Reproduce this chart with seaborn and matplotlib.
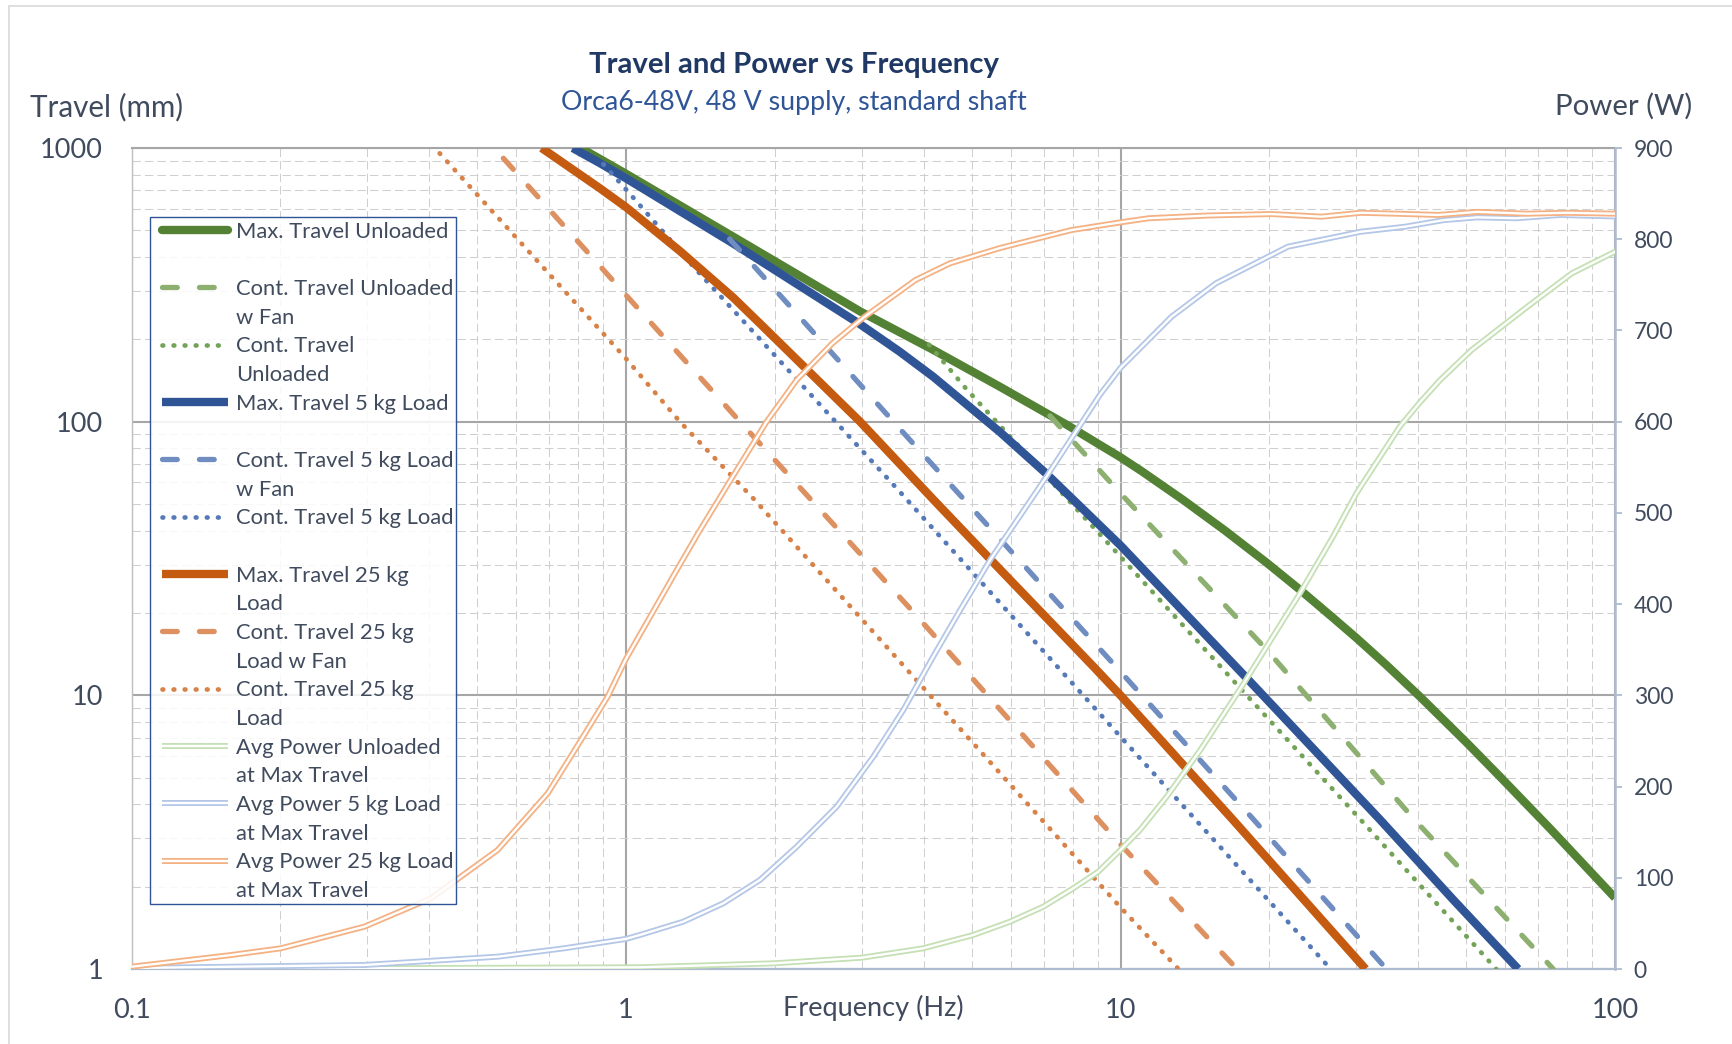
import numpy as np
import matplotlib
matplotlib.use("Agg")
import matplotlib.pyplot as plt
import matplotlib.patheffects as pe
from matplotlib.lines import Line2D
from matplotlib.patches import Rectangle
from matplotlib.ticker import FixedLocator, FixedFormatter, NullFormatter, LogLocator
import seaborn as sns

# ---------------- data ----------------
x_tick_values = [0.1, 1, 10, 100]
x_tick_labels = ["0.1", "1", "10", "100"]
y_tick_values = [1, 10, 100, 1000]
y_tick_labels = ["1", "10", "100", "1000"]
power_tick_values = [0, 100, 200, 300, 400, 500, 600, 700, 800, 900]

freq_max_unloaded = [0.81, 1.0, 1.635, 2.974, 4.18, 5.71, 7.78, 9.09, 10, 11.04, 13.4, 16.27,
                     19.76, 23.07, 26.9, 30.0, 34.5, 40.3, 50.1, 58.5, 73.9, 100]
travel_max_unloaded = [1000, 805, 478, 253, 183, 134, 97.5, 82.2, 74.1, 65.9, 51.7, 40.0,
                       30.5, 24.3, 19.2, 16.2, 12.9, 9.9, 6.72, 5.05, 3.26, 1.82]

freq_cont_unloaded_fan = [7.2, 10, 19.8, 39.1, 75]
travel_cont_unloaded_fan = [105, 54.7, 14.6, 3.55, 1.0]

freq_cont_unloaded = [4.1, 4.89, 10, 18.0, 30.6, 57.5]
travel_cont_unloaded = [191, 131, 32.1, 10, 3.51, 1.0]

freq_max_5kg = [0.78, 0.886, 1.0, 1.64, 2.974, 3.58, 4.18, 5.71, 7.09, 10, 18.3, 33.5, 47.1, 63.7]
travel_max_5kg = [1000, 880, 775, 450, 227, 180, 146, 91.5, 64.4, 35.3, 11.2, 3.51, 1.79, 1.0]

freq_cont_5kg_fan = [1.62, 3.58, 10, 18.6, 34.5]
travel_cont_5kg_fan = [465, 94.1, 12.2, 3.51, 1.0]

freq_cont_5kg = [0.9, 1.01, 1.37, 3.58, 10, 26.6]
travel_cont_5kg = [872, 692, 368, 55.4, 7.06, 1.0]

freq_max_25kg = [0.675, 0.886, 1.0, 1.286, 1.648, 1.896, 2.974, 4.18, 5.71, 8.81, 10, 16.9, 31.3]
travel_max_25kg = [1000, 712, 608, 420, 284, 222, 100, 52, 28.8, 12.75, 10, 3.5, 1.0]

freq_cont_25kg_fan = [0.565, 1.0, 1.70, 3.75, 10, 17.2]
travel_cont_25kg_fan = [917, 290, 100, 20.8, 2.85, 1.0]

freq_cont_25kg = [0.42, 1.0, 1.285, 1.82, 10, 13.1]
travel_cont_25kg = [956, 170, 100, 51.8, 1.68, 1.0]

freq_pow_unloaded = [0.1, 0.3, 1.067, 1.986, 3.0, 3.99, 5.04, 5.98, 6.98, 8.03, 9.02, 10,
                     10.95, 12.4, 14.5, 17.7, 23.07, 26.9, 30.0, 36.7, 40.3, 44.3, 51.3,
                     66.5, 81.8, 100]
power_unloaded = [0, 0.8, 1.9, 6.2, 12.4, 22.7, 37.3, 51.9, 68.3, 88.5, 106.7, 130.5,
                  152.4, 188.9, 240, 312, 412, 474, 521.5, 594.5, 621, 645.7, 678.6,
                  726, 762.6, 786.3]

freq_pow_5kg = [0.1, 0.2957, 0.55, 0.75, 1.0, 1.067, 1.306, 1.573, 1.866, 2.214, 2.668,
                3.163, 3.638, 4.18, 4.74, 5.45, 6.47, 7.09, 9.09, 10, 12.68, 15.6, 21.8,
                30.6, 37.6, 45.1, 52.7, 63.1, 77.6, 100]
power_5kg = [1.1, 4.4, 13.5, 22.7, 33, 37.3, 51.9, 72, 97.6, 134, 178,
             232.7, 284, 342.4, 393.5, 448.4, 508, 540, 629.6, 659, 715, 751.7, 791.8,
             808.2, 813.7, 821, 824, 823, 826.6, 825]

freq_pow_25kg = [0.1, 0.159, 0.2005, 0.2957, 0.4034, 0.55, 0.6946, 0.811, 0.918, 1.0,
                 1.124, 1.25, 1.4, 1.623, 1.925, 2.214, 2.615, 3.02, 3.85, 4.52, 5.71,
                 7.95, 10, 11.4, 15, 20.2, 25.5, 30.6, 36, 43.9, 52.7, 66.5, 80, 100]
power_25kg = [2.5, 15.3, 22.7, 46.4, 77.5, 130.4, 192.6, 251, 298.5, 340,
              388, 432, 478, 535, 600, 645.7, 685.9, 714, 755.3, 773.6, 790.4,
              810, 818.5, 823, 826, 827.6, 824.7, 829, 828, 826.6, 830, 828, 829, 828]

series_labels = [
    ("Max. Travel Unloaded", " "),
    ("Cont. Travel Unloaded", "w Fan"),
    ("Cont. Travel", "Unloaded"),
    ("Max. Travel 5 kg Load", " "),
    ("Cont. Travel 5 kg Load", "w Fan"),
    ("Cont. Travel 5 kg Load", " "),
    ("Max. Travel 25 kg", "Load"),
    ("Cont. Travel 25 kg", "Load w Fan"),
    ("Cont. Travel 25 kg", "Load"),
    ("Avg Power Unloaded", "at Max Travel"),
    ("Avg Power 5 kg Load", "at Max Travel"),
    ("Avg Power 25 kg Load", "at Max Travel"),
]

# ---------------- styling ----------------
W, H, DPI = 1732, 1044, 100
sns.set_theme(style="white")
plt.rcParams["font.family"] = ["Lato", "DejaVu Sans"]

TEXT_C = "#404B5E"
AX_C = "#AFBBCE"
GREEN, GREEN_DASH, GREEN_DOT = "#548235", "#8DB071", "#73A356"
BLUE, BLUE_DASH, BLUE_DOT = "#2F5597", "#6F8DC0", "#567AB8"
ORANGE, ORANGE_DASH, ORANGE_DOT = "#C55A11", "#DD9060", "#D78248"
P_GREEN, P_BLUE, P_ORANGE = "#C5E0B4", "#B4C7E7", "#F4B183"

LW_MAX, LW_DASH, LW_DOT = 6.0, 3.8, 3.4
DASH = (0, (2.8, 4.2))
DOT = (0, (0.15, 2.2))
PW_OUT, PW_IN = 4.3, 1.7

fig = plt.figure(figsize=(W / DPI, H / DPI), dpi=DPI)
ax = fig.add_axes([131.5 / W, 75 / H, 1483.5 / W, 821 / H])
ax.set_xscale("log")
ax.set_yscale("log")
ax.set_xlim(0.1, 100)
ax.set_ylim(1, 1000)
ax2 = ax.twinx()
ax2.set_ylim(0, 900)

# ---------------- travel curves ----------------
travel_specs = [
    (freq_max_unloaded, travel_max_unloaded, GREEN, LW_MAX, "-"),
    (freq_cont_unloaded_fan, travel_cont_unloaded_fan, GREEN_DASH, LW_DASH, DASH),
    (freq_cont_unloaded, travel_cont_unloaded, GREEN_DOT, LW_DOT, DOT),
    (freq_max_5kg, travel_max_5kg, BLUE, LW_MAX, "-"),
    (freq_cont_5kg_fan, travel_cont_5kg_fan, BLUE_DASH, LW_DASH, DASH),
    (freq_cont_5kg, travel_cont_5kg, BLUE_DOT, LW_DOT, DOT),
    (freq_max_25kg, travel_max_25kg, ORANGE, LW_MAX, "-"),
    (freq_cont_25kg_fan, travel_cont_25kg_fan, ORANGE_DASH, LW_DASH, DASH),
    (freq_cont_25kg, travel_cont_25kg, ORANGE_DOT, LW_DOT, DOT),
]
for fx, ty, c, lw, ls in travel_specs:
    sns.lineplot(x=fx, y=ty, ax=ax, color=c, linewidth=lw, linestyle=ls,
                 dash_capstyle="round", solid_capstyle="butt", solid_joinstyle="round",
                 errorbar=None, legend=False, zorder=3)

# ---------------- power curves (secondary axis, double line look) ----------------
power_specs = [
    (freq_pow_unloaded, power_unloaded, P_GREEN),
    (freq_pow_5kg, power_5kg, P_BLUE),
    (freq_pow_25kg, power_25kg, P_ORANGE),
]
for fx, py, c in power_specs:
    sns.lineplot(x=fx, y=py, ax=ax2, color="white", linewidth=PW_IN, errorbar=None,
                 legend=False, zorder=3, solid_joinstyle="round",
                 path_effects=[pe.Stroke(linewidth=PW_OUT, foreground=c, joinstyle="round"),
                               pe.Normal()])
ax2.set_ylim(0, 900)
ax2.set_xlim(0.1, 100)

# ---------------- axes, ticks, grid ----------------
ax.xaxis.set_major_locator(FixedLocator(x_tick_values))
ax.xaxis.set_major_formatter(FixedFormatter(x_tick_labels))
ax.yaxis.set_major_locator(FixedLocator(y_tick_values))
ax.yaxis.set_major_formatter(FixedFormatter(y_tick_labels))
ax.xaxis.set_minor_locator(LogLocator(base=10, subs=np.arange(2, 10)))
ax.yaxis.set_minor_locator(LogLocator(base=10, subs=np.arange(2, 10)))
ax.xaxis.set_minor_formatter(NullFormatter())
ax.yaxis.set_minor_formatter(NullFormatter())
ax.set_axisbelow(True)
ax.grid(which="major", color="#A6A6A6", linewidth=1.5, linestyle="-")
ax.grid(which="minor", color="#CFCFCF", linewidth=0.75, linestyle=(0, (8, 4)))
ax.tick_params(axis="x", which="both", length=0, pad=21, labelsize=19.5, labelcolor=TEXT_C)
ax.tick_params(axis="y", which="both", length=0, pad=20.5, labelsize=19.5, labelcolor=TEXT_C)
ax.set_xlabel("")
ax.set_ylabel("")

ax2.yaxis.set_major_locator(FixedLocator(power_tick_values))
ax2.yaxis.set_major_formatter(FixedFormatter([str(v) for v in power_tick_values]))
ax2.tick_params(axis="y", which="major", length=5, width=1.3, color=AX_C, pad=8.5,
                labelsize=16.5, labelcolor=TEXT_C)
ax2.grid(False)
ax2.set_ylabel("")

for s in ["top", "left", "bottom", "right"]:
    ax2.spines[s].set_visible(False)
ax2.spines["right"].set_visible(True)
ax2.spines["right"].set_color(AX_C)
ax2.spines["right"].set_linewidth(1.8)
ax.spines["right"].set_visible(False)
ax.spines["bottom"].set_color(AX_C)
ax.spines["bottom"].set_linewidth(1.6)
ax.spines["left"].set_color("#BFBFBF")
ax.spines["left"].set_linewidth(1.0)
ax.spines["top"].set_color("#A6A6A6")
ax.spines["top"].set_linewidth(1.5)

# ---------------- titles ----------------
def ftext(x, y, s, **kw):
    fig.text(x / W, 1 - y / H, s, **kw)

ftext(794, 72.7, "Travel and Power vs Frequency", ha="center", va="baseline",
      fontsize=21.2, fontweight="bold", color="#1F3864")
ftext(794, 110, "Orca6-48V, 48 V supply, standard shaft", ha="center", va="baseline",
      fontsize=19.3, color="#2F5597")
ftext(106.5, 116.7, "Travel (mm)", ha="center", va="baseline", fontsize=21.3, color=TEXT_C)
ftext(1624, 115, "Power (W)", ha="center", va="baseline", fontsize=21.2, color=TEXT_C)
ftext(873, 1016.3, "Frequency (Hz)", ha="center", va="baseline", fontsize=19.5, color=TEXT_C)

# outer chart border (partly cropped in the reference)
fig.add_artist(Rectangle((8.5 / W, -0.05), 1.2, 1.05 - 6 / H, transform=fig.transFigure,
                         fill=False, edgecolor="#D9D9D9", linewidth=1.2))

# ---------------- legend ----------------
legend_styles = [
    dict(color=GREEN, lw=LW_MAX, ls="-", solid_capstyle="round"),
    dict(color=GREEN_DASH, lw=LW_DASH, ls=DASH, dash_capstyle="round"),
    dict(color=GREEN_DOT, lw=LW_DOT, ls=DOT, dash_capstyle="round"),
    dict(color=BLUE, lw=LW_MAX, ls="-", solid_capstyle="butt"),
    dict(color=BLUE_DASH, lw=LW_DASH, ls=DASH, dash_capstyle="round"),
    dict(color=BLUE_DOT, lw=LW_DOT, ls=DOT, dash_capstyle="round"),
    dict(color=ORANGE, lw=LW_MAX, ls="-", solid_capstyle="butt"),
    dict(color=ORANGE_DASH, lw=LW_DASH, ls=DASH, dash_capstyle="round"),
    dict(color=ORANGE_DOT, lw=LW_DOT, ls=DOT, dash_capstyle="round"),
    dict(power=P_GREEN),
    dict(power=P_BLUE),
    dict(power=P_ORANGE),
]
leg_handles, leg_labels = [], []
for st, (l1, l2) in zip(legend_styles, series_labels):
    if "power" in st:
        h = Line2D([0], [0], color="white", lw=PW_IN, solid_capstyle="butt",
                   path_effects=[pe.Stroke(linewidth=PW_OUT, foreground=st["power"]), pe.Normal()])
    else:
        h = Line2D([0], [0], **st)
    leg_handles += [h, Line2D([0], [0], color="none")]
    leg_labels += [l1, l2]

LEG_FS = 15.8
LEG_FS_PX = LEG_FS * DPI / 72
TARGET_X = 162.0
TARGET_Y = H - 230.0
TARGET_PITCH = 28.66


def build_legend(bx, by, spacing):
    lg = ax2.legend(leg_handles, leg_labels, loc="upper left", bbox_to_anchor=(bx, by),
                    bbox_transform=fig.transFigure, frameon=False, borderpad=0.0,
                    borderaxespad=0.0, handlelength=3.03, handletextpad=0.36,
                    labelspacing=spacing, handleheight=0.7, fontsize=LEG_FS,
                    labelcolor=TEXT_C)
    lg.set_zorder(20)
    return lg


def measure(lg):
    fig.canvas.draw()
    pts = []
    for hh in lg.legend_handles:
        xy = hh.get_transform().transform(np.column_stack([hh.get_xdata(), hh.get_ydata()]))
        pts.append(xy)
    return pts[0][0, 0], pts[0][0, 1], (pts[0][0, 1] - pts[22][0, 1]) / 22.0


bx, by, spacing = TARGET_X / W, 1 - 215 / H, 0.2
leg = build_legend(bx, by, spacing)
x0, y0, pitch = measure(leg)
spacing = max(0.0, spacing + (TARGET_PITCH - pitch) / LEG_FS_PX)
leg.remove()
leg = build_legend(bx, by, spacing)
x0, y0, pitch = measure(leg)
bx += (TARGET_X - x0) / W
by += (TARGET_Y - y0) / H
leg.remove()
leg = build_legend(bx, by, spacing)

# legend frame (slightly translucent white, as in the reference)
fx0, fx1 = (150 - 131.5) / 1483.5, (456 - 131.5) / 1483.5
fy0, fy1 = (969 - 903.5) / 821, (969 - 216.7) / 821
ax2.add_artist(Rectangle((fx0, fy0), fx1 - fx0, fy1 - fy0, transform=ax2.transAxes,
                         facecolor=(1, 1, 1, 0.86), edgecolor="#2F5597", linewidth=1.0,
                         zorder=15, clip_on=False))

fig.savefig("out.png", dpi=DPI)
